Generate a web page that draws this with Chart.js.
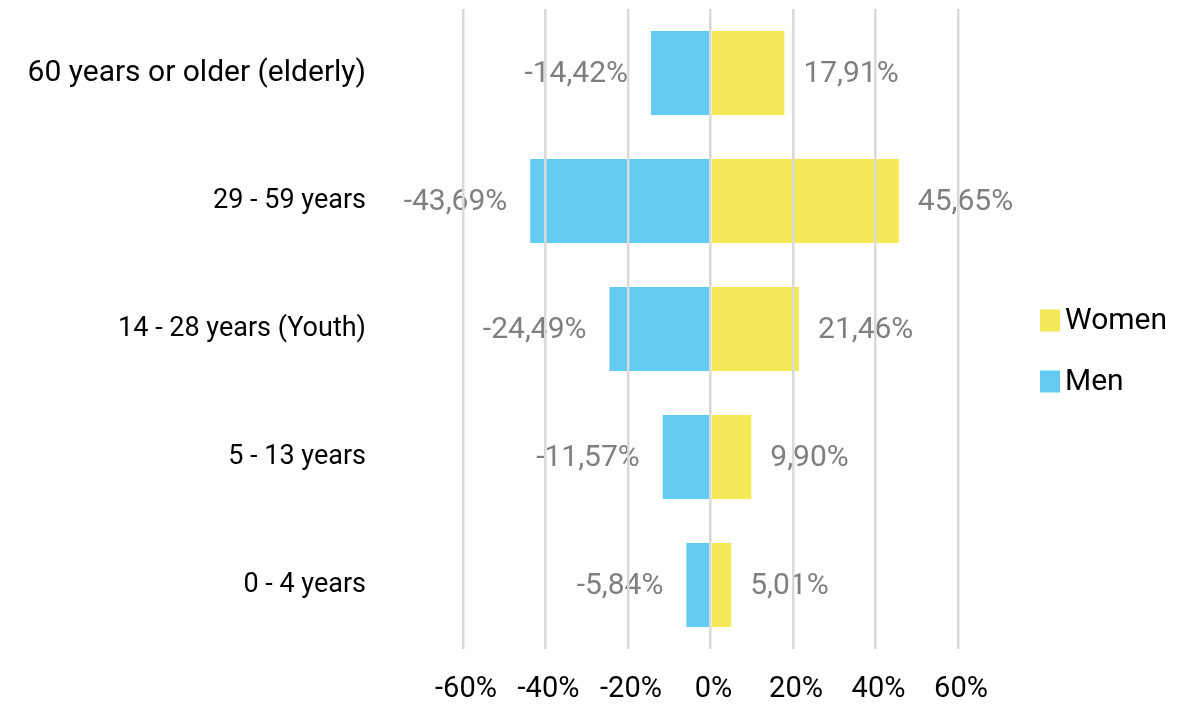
<!DOCTYPE html>
<html>
<head>
<meta charset="utf-8">
<script src="https://cdn.jsdelivr.net/npm/chart.js@4/dist/chart.umd.min.js"></script>
<style>
  html, body { margin: 0; padding: 0; background: #ffffff; }
  #wrap { width: 1198px; height: 706px; position: relative; }
</style>
</head>
<body>
<div id="wrap"><canvas id="c"></canvas></div>
<script>
const categories = ['60 years or older (elderly)', '29 - 59 years', '14 - 28 years (Youth)', '5 - 13 years', '0 - 4 years'];
const women = [17.91, 45.65, 21.46, 9.90, 5.01];
const men = [-14.42, -43.69, -24.49, -11.57, -5.84];
const seriesNames = ['Women', 'Men'];
const seriesColors = ['#F4EA58', '#63CAF2'];
const xTicks = [-60, -40, -20, 0, 20, 40, 60];

const FONT = 'Roboto, "Noto Sans", sans-serif';

const fmt = v => v.toFixed(2).replace('.', ',') + '%';

const valueLabels = {
  id: 'valueLabels',
  afterDatasetsDraw(chart) {
    const ctx = chart.ctx;
    ctx.save();
    ctx.font = '30px ' + FONT;
    ctx.fillStyle = '#7f7f7f';
    ctx.textBaseline = 'middle';
    chart.data.datasets.forEach((ds, di) => {
      const meta = chart.getDatasetMeta(di);
      meta.data.forEach((bar, i) => {
        const v = ds.data[i];
        if (v >= 0) {
          ctx.textAlign = 'left';
          ctx.fillText(fmt(v), bar.x + 19, bar.y + 1);
        } else {
          ctx.textAlign = 'right';
          ctx.fillText(fmt(v), bar.x - 23, bar.y + 1);
        }
      });
    });
    ctx.restore();
  }
};

const sideLegend = {
  id: 'sideLegend',
  afterDraw(chart) {
    const ctx = chart.ctx;
    ctx.save();
    ctx.font = '30px ' + FONT;
    ctx.textBaseline = 'middle';
    ctx.textAlign = 'left';
    const x = chart.chartArea.right + 82;
    const cy = (chart.chartArea.top + chart.chartArea.bottom) / 2 + 22;
    const gap = 61;
    chart.data.datasets.forEach((ds, i) => {
      const y = cy - gap / 2 + i * gap;
      ctx.fillStyle = ds.backgroundColor;
      ctx.fillRect(x, y - 11, 20, 22);
      ctx.fillStyle = '#000000';
      ctx.fillText(ds.label, x + 25, y + 1);
    });
    ctx.restore();
  }
};

new Chart(document.getElementById('c'), {
  type: 'bar',
  data: {
    labels: categories,
    datasets: [
      { label: seriesNames[0], data: women, backgroundColor: seriesColors[0], borderWidth: 0, barPercentage: 0.82, categoryPercentage: 0.8 },
      { label: seriesNames[1], data: men, backgroundColor: seriesColors[1], borderWidth: 0, barPercentage: 0.82, categoryPercentage: 0.8 }
    ]
  },
  options: {
    indexAxis: 'y',
    responsive: true,
    maintainAspectRatio: false,
    animation: false,
    layout: { padding: { left: 0, right: 240, top: 9, bottom: 0 } },
    plugins: {
      legend: { display: false },
      tooltip: { enabled: false }
    },
    scales: {
      x: {
        stacked: true,
        min: -60,
        max: 60,
        afterBuildTicks: (scale) => { scale.ticks = xTicks.map(v => ({ value: v })); },
        afterFit: (scale) => { scale.height = 57; scale.paddingLeft = 0; scale.paddingRight = 0; },
        grid: { color: '#d9d9d9', lineWidth: 2.5, drawTicks: false, z: 1 },
        border: { display: false },
        ticks: {
          padding: 23,
          labelOffset: 3,
          color: '#000000',
          font: { family: FONT, size: 29 },
          callback: v => v + '%'
        }
      },
      y: {
        stacked: true,
        grid: { display: false, drawTicks: true, tickLength: 97 },
        border: { display: false },
        afterFit: (scale) => { scale.width = 463; scale.paddingTop = 0; scale.paddingBottom = 0; },
        ticks: {
          padding: 0,
          color: '#000000',
          font: (c) => ({ family: FONT, size: c.index === 0 ? 30 : 27 })
        }
      }
    }
  },
  plugins: [valueLabels, sideLegend]
});
</script>
</body>
</html>
